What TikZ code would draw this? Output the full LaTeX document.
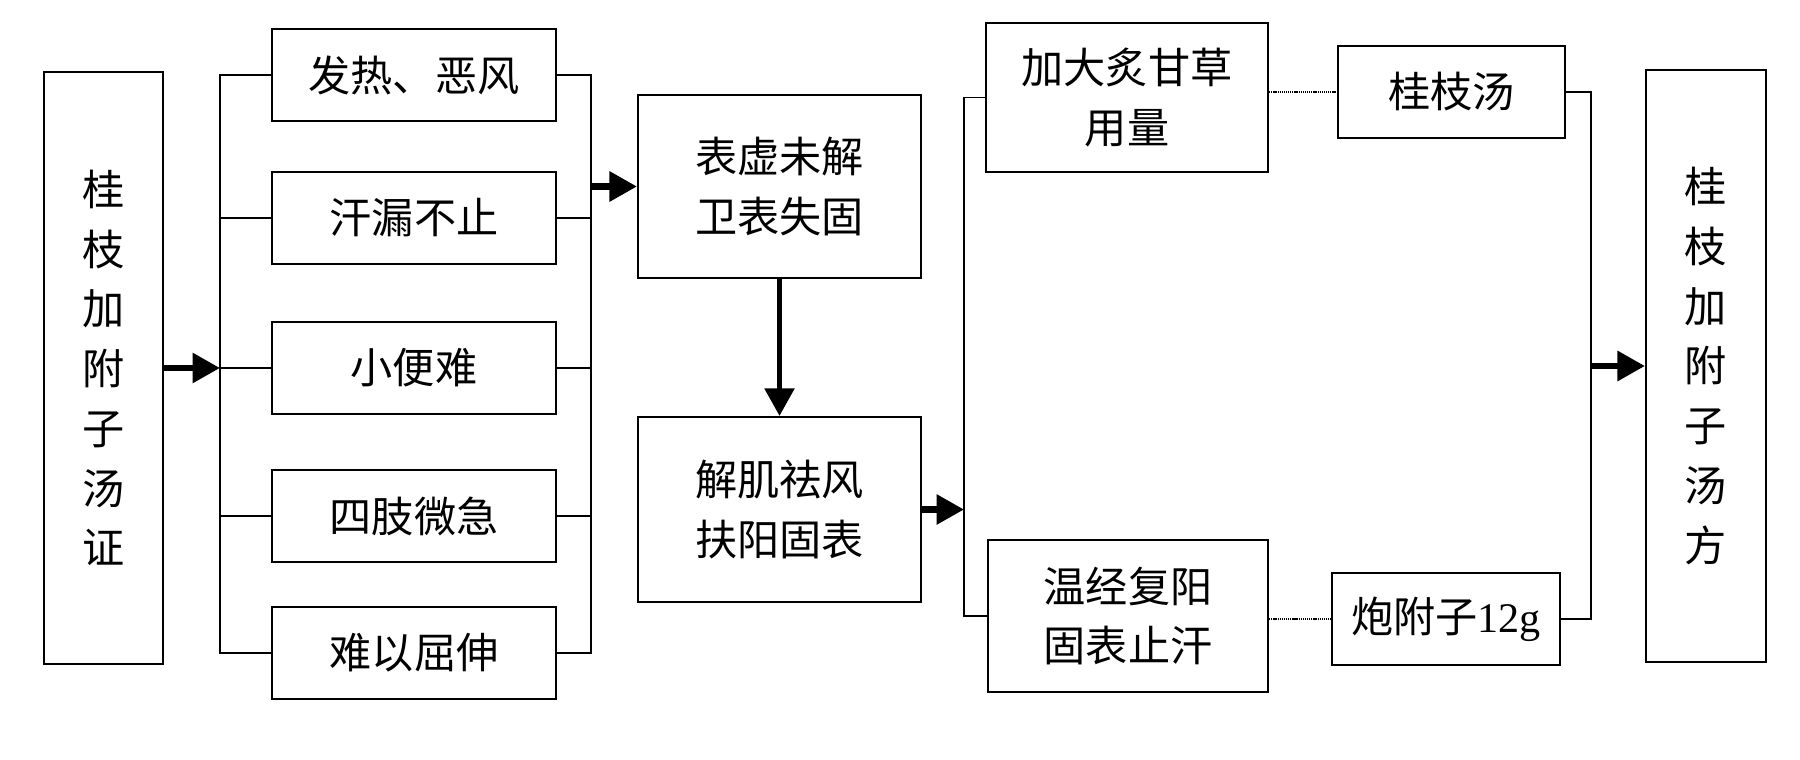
\documentclass[tikz,border=0pt]{standalone}
\usepackage{fontspec}
\setmainfont{Liberation Serif}
\newfontfamily\zhfont{Noto Sans CJK SC}
\usetikzlibrary{arrows.meta}

\begin{document}
\begin{tikzpicture}[
  box/.style={draw,line width=1.2pt,align=center,inner sep=0pt,font=\zhfont\fontsize{24}{34}\selectfont},
  link/.style={line width=1pt},
  dotlink/.style={line width=1.4pt,dash pattern=on 0.7pt off 0.5pt},
  arr/.style={line width=3.5pt,-{Triangle[length=5.5mm,width=5.8mm]}}
]
\useasboundingbox (0,0) rectangle (36,15.18);
\draw (2.07,7.82) node[box,minimum width=2.38cm,minimum height=11.84cm](zheng) {桂\\枝\\加\\附\\子\\汤\\证};
\draw (8.28,13.68) node[box,minimum width=5.68cm,minimum height=1.84cm](fare) {发热、恶风};
\draw (8.28,10.82) node[box,minimum width=5.68cm,minimum height=1.84cm](hanlou) {汗漏不止};
\draw (8.28,7.82) node[box,minimum width=5.68cm,minimum height=1.84cm](xiaobian) {小便难};
\draw (8.28,4.86) node[box,minimum width=5.68cm,minimum height=1.84cm](sizhi) {四肢微急};
\draw (8.28,2.12) node[box,minimum width=5.68cm,minimum height=1.84cm](qushen) {难以屈伸};
\draw (15.59,11.45) node[box,minimum width=5.66cm,minimum height=3.66cm](biaoxu) {表虚未解\\卫表失固};
\draw (15.59,4.99) node[box,minimum width=5.66cm,minimum height=3.70cm](jieji) {解肌祛风\\扶阳固表};
\draw (22.54,13.23) node[box,minimum width=5.64cm,minimum height=2.98cm](gancao) {加大炙甘草\\用量};
\draw (22.56,2.86) node[box,minimum width=5.60cm,minimum height=3.04cm](wenjing) {温经复阳\\固表止汗};
\draw (29.03,13.34) node[box,minimum width=4.54cm,minimum height=1.84cm](guizhi) {桂枝汤};
\draw (28.92,2.80) node[box,minimum width=4.56cm,minimum height=1.84cm](fuzi) {炮附子{\rmfamily 12g}};
\draw (34.12,7.86) node[box,minimum width=2.40cm,minimum height=11.84cm](fang) {桂\\枝\\加\\附\\子\\汤\\方};
\coordinate (lb) at (4.40,7.82);
\coordinate (rb) at (11.82,11.45);
\coordinate (vl) at (19.28,4.99);
\coordinate (rb2) at (31.82,7.86);
\draw[arr] (zheng.east |- lb) -- (lb);
\draw[link] (fare.west) -- (fare.west -| lb) -- (qushen.west -| lb) -- (qushen.west);
\draw[link] (hanlou.west) -- (hanlou.west -| lb);
\draw[link] (xiaobian.west) -- (xiaobian.west -| lb);
\draw[link] (sizhi.west) -- (sizhi.west -| lb);
\draw[link] (fare.east) -- (fare.east -| rb) -- (qushen.east -| rb) -- (qushen.east);
\draw[link] (hanlou.east) -- (hanlou.east -| rb);
\draw[link] (xiaobian.east) -- (xiaobian.east -| rb);
\draw[link] (sizhi.east) -- (sizhi.east -| rb);
\draw[arr] (rb) -- (biaoxu.west);
\draw[arr,line width=3pt] (biaoxu.south) -- (jieji.north);
\draw[arr] (jieji.east) -- (vl);
\draw[link] (gancao.west) -- (gancao.west -| vl) -- (wenjing.west -| vl) -- (wenjing.west);
\draw[dotlink] (gancao.east |- guizhi.west) -- (guizhi.west);
\draw[dotlink] (wenjing.east |- fuzi.west) -- (fuzi.west);
\draw[link] (guizhi.east) -- (guizhi.east -| rb2) -- (fuzi.east -| rb2) -- (fuzi.east);
\draw[arr] (rb2) -- (fang.west);
\end{tikzpicture}
\end{document}
